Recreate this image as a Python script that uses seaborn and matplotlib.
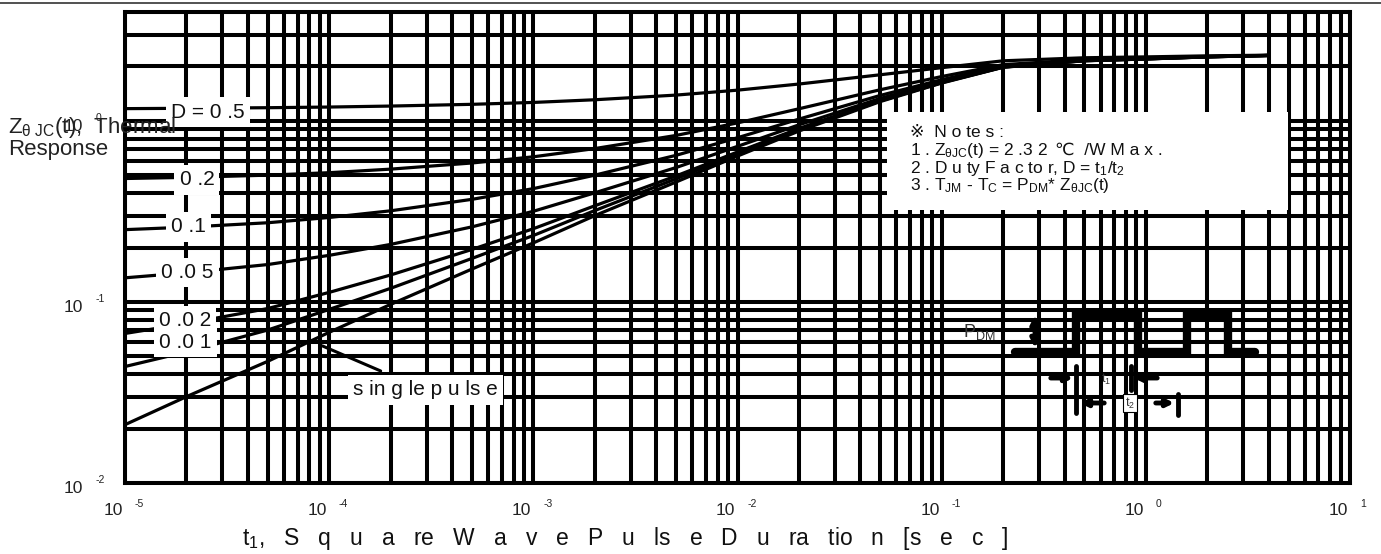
import numpy as np
import pandas as pd
import matplotlib
matplotlib.use("Agg")
import matplotlib.pyplot as plt
from matplotlib.ticker import LogLocator, NullFormatter
from matplotlib.patches import Rectangle
import seaborn as sns

# ---------------- data ----------------
t_sec = [1e-5, 2e-5, 5e-5, 1e-4, 2e-4, 5e-4, 1e-3, 2e-3, 5e-3, 1e-2,
         2e-2, 5e-2, 1e-1, 2e-1, 5e-1, 1.0, 2.0, 4.0]
z_d050 = [1.170, 1.175, 1.184, 1.194, 1.209, 1.236, 1.266, 1.31, 1.39, 1.48,
          1.60, 1.80, 1.97, 2.15, 2.235, 2.26, 2.29, 2.31]
z_d020 = [0.481, 0.488, 0.502, 0.518, 0.542, 0.586, 0.634, 0.704, 0.832, 0.976,
          1.168, 1.488, 1.76, 2.048, 2.184, 2.224, 2.272, 2.304]
z_d010 = [0.251, 0.259, 0.274, 0.293, 0.319, 0.369, 0.423, 0.502, 0.646, 0.808,
          1.024, 1.384, 1.69, 2.014, 2.167, 2.212, 2.266, 2.302]
z_d005 = [0.136, 0.145, 0.161, 0.181, 0.208, 0.260, 0.317, 0.401, 0.553, 0.724,
          0.952, 1.332, 1.655, 1.997, 2.159, 2.206, 2.263, 2.301]
z_d002 = [0.067, 0.076, 0.092, 0.113, 0.141, 0.195, 0.254, 0.340, 0.497, 0.674,
          0.909, 1.301, 1.634, 1.987, 2.153, 2.202, 2.261, 2.300]
z_d001 = [0.044, 0.053, 0.070, 0.091, 0.119, 0.174, 0.233, 0.320, 0.479, 0.657,
          0.894, 1.290, 1.627, 1.983, 2.152, 2.201, 2.260, 2.300]
z_single = [0.021, 0.030, 0.047, 0.068, 0.097, 0.152, 0.212, 0.30, 0.46, 0.64,
            0.88, 1.28, 1.62, 1.98, 2.15, 2.20, 2.26, 2.30]

curve_labels = ["D = 0 .5", "0 .2", "0 .1", "0 .0 5", "0 .0 2", "0 .0 1", "s in g le p u ls e"]
curve_values = [z_d050, z_d020, z_d010, z_d005, z_d002, z_d001, z_single]
label_t = [2.55e-5, 2.25e-5, 2.05e-5, 2.02e-5, 1.97e-5, 1.97e-5, 2.96e-4]
label_z = [1.12, 0.472, 0.26, 0.145, 0.0793, 0.0601, 0.0327]

x_tick_exp = ["-5", "-4", "-3", "-2", "-1", "0", "1"]
x_tick_val = [1e-5, 1e-4, 1e-3, 1e-2, 1e-1, 1e0, 1e1]
y_tick_exp = ["-2", "-1", "0"]
y_tick_val = [1e-2, 1e-1, 1e0]

notes_title = "\u203b  N o te s :"
note1_a = "1 . Z$_{\\theta JC}$(t) = 2 .3 2"
note1_b = "\u2103  /W M a x ."
note2 = "2 . D u ty F a c to r, D = t$_{1}$/t$_{2}$"
note3 = "3 . T$_{JM}$ - T$_{C}$ = P$_{DM}$* Z$_{\\theta JC}$(t)"
x_title = "t$_{1}$,   S   q   u   a   re   W   a   v   e   P   u   ls   e   D   u   ra   tio   n   [s   e   c   ]"
y_title_1 = "Z$_{\\theta\\ JC}$(t),  Thermal"
y_title_2 = "Response"

# ---------------- style ----------------
sns.set_style("white")
plt.rcParams["font.family"] = ["Liberation Sans", "DejaVu Sans", "Noto Sans CJK JP"]
plt.rcParams["mathtext.fontset"] = "custom"
plt.rcParams["mathtext.rm"] = "Liberation Sans"
plt.rcParams["mathtext.it"] = "Liberation Sans"
plt.rcParams["mathtext.default"] = "regular"

W, H = 1381, 554
fig = plt.figure(figsize=(W / 100, H / 100), dpi=100)
L, R, B, T = 125, 1350, 483, 12
ax = fig.add_axes([L / W, 1 - B / H, (R - L) / W, (B - T) / H])
ax.set_xscale("log")
ax.set_yscale("log")

rows = []
for name, vals in zip(curve_labels, curve_values):
    for t, z in zip(t_sec, vals):
        rows.append((name, t, z))
df = pd.DataFrame(rows, columns=["curve", "t", "Z"])
sns.lineplot(data=df, x="t", y="Z", hue="curve", hue_order=curve_labels,
             palette=["black"] * len(curve_labels), legend=False,
             estimator=None, sort=False, linewidth=2.3, ax=ax, zorder=2)

ax.set_xlim(1e-5, 1e1)
ax.set_ylim(1e-2, 4)
ax.xaxis.set_minor_locator(LogLocator(base=10, subs=np.arange(2, 10), numticks=50))
ax.yaxis.set_minor_locator(LogLocator(base=10, subs=np.arange(2, 10), numticks=50))
ax.xaxis.set_minor_formatter(NullFormatter())
ax.yaxis.set_minor_formatter(NullFormatter())
ax.grid(True, which="both", color="black", linewidth=2.9)
ax.set_axisbelow(True)
ax.tick_params(which="both", length=0, labelbottom=False, labelleft=False)
ax.set_xlabel("")
ax.set_ylabel("")
for sp in ax.spines.values():
    sp.set_visible(True)
    sp.set_color("black")
    sp.set_linewidth(2.9)

# curve labels with white boxes
for s, t, z in zip(curve_labels, label_t, label_z):
    ax.text(t, z, s, ha="center", va="center", fontsize=15, color="#111111",
            zorder=5, bbox=dict(boxstyle="square,pad=0.25", fc="white", ec="none"))

# leader from single pulse label to curve
ax.annotate("", xy=(9.0e-5, 0.058), xytext=(1.84e-4, 0.041),
            arrowprops=dict(arrowstyle="-", color="black", lw=2.2), zorder=4)

# tick labels
for v, e in zip(x_tick_val, x_tick_exp):
    ax.annotate("10", xy=(v, 0), xycoords=("data", "axes fraction"),
                xytext=(-1.5, -23), textcoords="offset points",
                ha="right", va="baseline", fontsize=12.5, color="#222222",
                annotation_clip=False)
    ax.annotate(e, xy=(v, 0), xycoords=("data", "axes fraction"),
                xytext=(7, -17.5), textcoords="offset points",
                ha="left", va="baseline", fontsize=7.5, color="#222222",
                annotation_clip=False)
for v, e in zip(y_tick_val, y_tick_exp):
    ax.annotate("10", xy=(0, v), xycoords=("axes fraction", "data"),
                xytext=(-30.5, -7.5), textcoords="offset points",
                ha="right", va="baseline", fontsize=12.5, color="#222222",
                annotation_clip=False)
    ax.annotate(e, xy=(0, v), xycoords=("axes fraction", "data"),
                xytext=(-21.5, 0), textcoords="offset points",
                ha="left", va="baseline", fontsize=7.5, color="#222222",
                annotation_clip=False)

# notes box
def ax_xy(px, py):
    return (px - L) / (R - L), (B - py) / (B - T)

nx0, nx1, ny0, ny1 = 887, 1288, 210, 112
ax.add_patch(Rectangle(ax_xy(nx0, ny0), (nx1 - nx0) / (R - L), (ny0 - ny1) / (B - T),
                       transform=ax.transAxes, fc="white", ec="none", zorder=4))
note_kw = dict(transform=ax.transAxes, ha="left", va="baseline", fontsize=12.5,
               color="#111111", zorder=5)
ax.text(*ax_xy(910, 137), notes_title, **note_kw)
t1a = ax.text(*ax_xy(910, 155), note1_a, **note_kw)
ax.text(*ax_xy(910, 172.5), note2, **note_kw)
ax.text(*ax_xy(910, 190), note3, **note_kw)
fig.canvas.draw()
bb = t1a.get_window_extent()
x_end = ax.transAxes.inverted().transform((bb.x1 + 7, 0))[0]
ax.text(x_end, ax_xy(910, 155)[1], note1_b, **note_kw)

# y label & x label
fig.text(8 / W, 1 - 128 / H, y_title_1, fontsize=16, ha="left", va="center",
         color="#222222", zorder=10)
fig.text(8 / W, 1 - 149 / H, y_title_2, fontsize=16, ha="left", va="center",
         color="#222222", zorder=10)
fig.text(625 / W, 1 - 538 / H, x_title, fontsize=16.5, ha="center", va="center",
         color="#111111")

# top border line
fig.add_artist(plt.Line2D([0, 1], [1 - 3 / H, 1 - 3 / H], color="#333333", lw=1.2))

# pulse waveform sketch (inset, pixel-like coordinates)
ins = fig.add_axes([950 / W, 1 - 420 / H, 310 / W, 115 / H])
ins.set_xlim(950, 1260)
ins.set_ylim(420, 305)
ins.axis("off")
ins.patch.set_alpha(0)
wave_x = [1015, 1076, 1076, 1138, 1138, 1187, 1187, 1228, 1228, 1255]
wave_y = [352, 352, 314, 314, 352, 352, 314, 314, 352, 352]
ins.plot(wave_x, wave_y, color="black", lw=6, solid_joinstyle="miter")
ins.annotate("", xy=(1035, 312), xytext=(1035, 351),
             arrowprops=dict(arrowstyle="<|-|>", color="black", lw=3.5, mutation_scale=12))
ins.text(963, 332, "P$_{DM}$", fontsize=13, color="#333333", ha="left", va="center")
ins.plot([1076, 1076], [366, 413], color="black", lw=3.5)
ins.plot([1131, 1131], [366, 390], color="black", lw=3.5)
ins.plot([1178, 1178], [394, 415], color="black", lw=3.5)
ins.annotate("", xy=(1076, 378), xytext=(1048, 378),
             arrowprops=dict(arrowstyle="-|>", color="black", lw=3.5, mutation_scale=10))
ins.annotate("", xy=(1131, 378), xytext=(1160, 378),
             arrowprops=dict(arrowstyle="-|>", color="black", lw=3.5, mutation_scale=10))
ins.text(1106, 379, "t$_1$", fontsize=9, color="#333333", ha="center", va="center")
ins.annotate("", xy=(1077, 403), xytext=(1107, 403),
             arrowprops=dict(arrowstyle="-|>", color="black", lw=3.5, mutation_scale=10))
ins.annotate("", xy=(1177, 403), xytext=(1153, 403),
             arrowprops=dict(arrowstyle="-|>", color="black", lw=3.5, mutation_scale=10))
ins.text(1130, 403, "t$_2$", fontsize=9, color="#333333", ha="center", va="center",
         bbox=dict(boxstyle="square,pad=0.15", fc="white", ec="black", lw=0.8))

fig.savefig("out.png", dpi=100)
